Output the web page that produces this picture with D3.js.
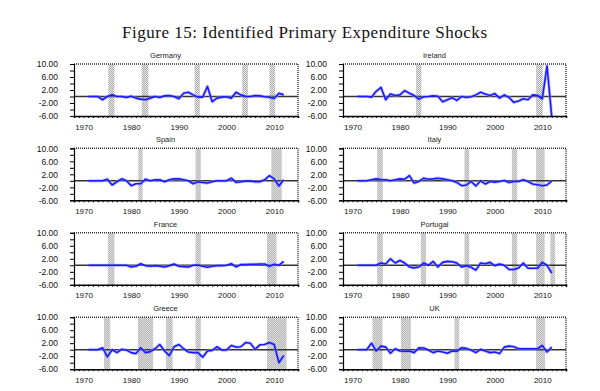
<!DOCTYPE html>
<html>
<head>
<meta charset="utf-8">
<script src="https://cdn.jsdelivr.net/npm/d3@7"></script>
<style>
  body { margin: 0; background: #fff; }
  svg { display: block; }
</style>
</head>
<body>
<div id="chart"></div>
<script>
// years of the series (annual)
const years = [1971, 1972, 1973, 1974, 1975, 1976, 1977, 1978, 1979, 1980,
  1981, 1982, 1983, 1984, 1985, 1986, 1987, 1988, 1989, 1990,
  1991, 1992, 1993, 1994, 1995, 1996, 1997, 1998, 1999, 2000,
  2001, 2002, 2003, 2004, 2005, 2006, 2007, 2008, 2009, 2010,
  2011, 2012];

const countries = ["Germany", "Ireland", "Spain", "Italy", "France", "Portugal", "Greece", "UK"];

// shock series
const germany = [0, 0, 0, -1.0, 0, 0.5, 0, 0, -0.3, 0.1,
  -0.5, -0.8, -1.0, -0.5, 0, -0.3, 0.2, 0.3, 0, -0.7,
  1.0, 1.3, 0.5, -0.2, -0.2, 3.1, -1.6, -0.5, -0.2, -0.1,
  -0.5, 1.3, 0.5, 0, 0, 0.3, 0.2, -0.1, -0.2, -0.6,
  1.0, 0.5];
const ireland = [0, 0, 0, -0.2, 1.6, 2.8, -1.0, 0.8, 0.3, 0.5,
  1.8, 1.0, 0.3, -0.8, -0.1, 0, 0.2, 0.1, -1.6, -1.0,
  -0.4, -1.2, 0, -0.3, -0.1, 0.5, 1.3, 0.8, 0.3, 0.9,
  -0.5, 0.5, -0.3, -1.8, -1.4, -0.7, -1.0, 0.5, 0.3, -0.7,
  9.4, -6.3];
const spain = [0, 0, 0, 0, 0.5, -1.3, -0.3, 0.6, 0, -1.5,
  -0.9, -0.9, 0.5, 0, 0.3, 0.3, -0.3, 0.3, 0.6, 0.6,
  0.3, 0, -0.9, -0.3, -0.5, -0.7, -0.3, 0, 0, 0,
  0.8, -0.5, -0.3, -0.1, -0.1, -0.3, -0.3, 0.3, 1.6, 0.6,
  -1.6, 0.3];
const italy = [0, 0, 0, 0.3, 0.6, 0.4, 0.3, 0, 0.3, 0.6,
  0.5, 1.6, -0.7, -0.2, 0.8, 0.5, 0.6, 0.8, 0.6, 0.3,
  0, -0.5, -1.5, -1.3, -0.2, -1.6, 0, -1.0, -0.2, -0.4,
  -0.2, 0.1, -0.5, -0.2, -0.2, 0.3, -0.2, -1.0, -1.2, -1.5,
  -1.3, 0];
const france = [0, 0, 0, 0, 0, 0, 0, 0, 0, -0.5,
  -0.3, 0.5, -0.1, -0.3, -0.1, -0.3, -0.5, -0.1, 0.4, -0.3,
  -0.4, -0.5, 0, 0.1, -0.3, -0.6, -0.3, -0.1, -0.1, 0,
  0.5, -0.5, 0.2, 0.2, 0.3, 0.3, 0.4, 0.4, -0.3, 0.3,
  0, 1.2];
const portugal = [0, 0, 0, 0, 0, 0.7, 0.4, 2.0, 0.7, 1.5,
  0.7, -0.5, -0.8, -0.5, 0.7, 0, 1.2, -0.5, 0.9, 1.2,
  1.1, 0.7, -0.5, -0.1, -0.6, -1.5, 0.7, 0.5, 0.9, -0.1,
  0.4, 0, -1.3, -1.3, -0.8, 0.7, -0.9, -0.9, -0.9, 0.9,
  0, -2.4];
const greece = [0, 0, 0, 0.6, -2.2, 0, -0.9, 0.1, -0.1, -0.9,
  -1.2, 0.6, -0.9, -0.6, 0.3, 1.6, -0.4, -1.8, 0.9, 1.6,
  0.3, -0.7, -0.9, -0.9, -2.3, -0.4, -0.2, 0.9, -0.1, -0.1,
  1.3, 0.8, 0.9, 2.2, 2.0, 0.1, 1.5, 1.6, 2.2, 1.6,
  -4.0, -1.8];
const uk = [0, 0, 0, 2.0, -0.4, 1.1, 0.8, -1.1, 0.3, -0.4,
  -0.5, -0.4, -0.9, 0.6, 0.5, -0.1, -0.9, -0.4, -0.7, -1.1,
  -0.4, -0.5, 0.6, 0.4, -0.1, -0.9, 0.1, -0.4, -0.9, -0.7,
  -1.2, 0.8, 1.1, 0.9, 0.3, 0.3, 0.3, 0.3, 0.3, 1.3,
  -0.7, 0.8];

// shaded periods [from, to] in years
const germanyBands = [[1975.2, 1976.5], [1982.2, 1983.6], [1993.3, 1994.4], [2003.3, 2004.5], [2009.0, 2010.2]];
const irelandBands = [[1983.4, 1984.5], [2008.7, 2010.1]];
const spainBands = [[1981.5, 1982.4], [1993.5, 1994.6], [2009.4, 2011.6]];
const italyBands = [[1975.2, 1976.4], [1993.6, 1994.6], [2003.6, 2004.7], [2008.7, 2010.5]];
const franceBands = [[1975.1, 1976.5], [1993.5, 1994.6], [2008.5, 2010.5]];
const portugalBands = [[1975.2, 1976.4], [1984.4, 1985.5], [1993.6, 1994.6], [2003.6, 2004.7], [2008.7, 2010.5], [2011.7, 2012.7]];
const greeceBands = [[1974.3, 1975.6], [1981.4, 1984.6], [1987.3, 1988.7], [1993.5, 1994.6], [2008.5, 2012.6]];
const ukBands = [[1974.2, 1976.3], [1980.2, 1982.3], [1991.5, 1992.5], [2008.7, 2010.6]];

const seriesList = [germany, ireland, spain, italy, france, portugal, greece, uk];
const bandsList = [germanyBands, irelandBands, spainBands, italyBands, franceBands, portugalBands, greeceBands, ukBands];

const yTicks = [-6, -4, -2, 0, 2, 4, 6, 8, 10];
const yLabels = [10, 6, 2, -2, -6];
const xLabels = [1970, 1980, 1990, 2000, 2010];

const width = 600, height = 391;
const svg = d3.select("#chart").append("svg")
  .attr("width", width)
  .attr("height", height);

// hatch pattern for the shaded periods
const pat = svg.append("defs").append("pattern")
  .attr("id", "hatch")
  .attr("patternUnits", "userSpaceOnUse")
  .attr("width", 2).attr("height", 2);
pat.append("rect").attr("width", 2).attr("height", 2).attr("fill", "#ececec");
pat.append("rect").attr("width", 1).attr("height", 1).attr("fill", "#a8a8a8");
pat.append("rect").attr("x", 1).attr("y", 1).attr("width", 1).attr("height", 1).attr("fill", "#a8a8a8");

svg.append("text")
  .attr("x", 304.5).attr("y", 38)
  .attr("text-anchor", "middle")
  .attr("font-family", "Liberation Serif, serif")
  .attr("font-size", 17)
  .attr("textLength", 365)
  .attr("lengthAdjust", "spacing")
  .attr("fill", "#111")
  .text("Figure 15: Identified Primary Expenditure Shocks");

const colLeft = [74, 343];
const colWidth = [224, 223];
const rowTop = [64, 148.3, 232.8, 317.2];
const plotH = 52;

countries.forEach((name, i) => {
  const col = i % 2, row = Math.floor(i / 2);
  const w = colWidth[col], h = plotH;
  const g = svg.append("g")
    .attr("transform", `translate(${colLeft[col]},${rowTop[row]})`);

  const x = d3.scaleLinear().domain([1968, 2015]).range([0, w]);
  const y = d3.scaleLinear().domain([-6, 10]).range([h, 0]);

  g.append("clipPath").attr("id", "clip" + i)
    .append("rect").attr("width", w).attr("height", h);

  // shaded bands
  g.selectAll("rect.band")
    .data(bandsList[i])
    .enter()
    .append("rect")
    .attr("class", "band")
    .attr("x", d => x(d[0]))
    .attr("width", d => x(d[1]) - x(d[0]))
    .attr("y", 0)
    .attr("height", h)
    .attr("fill", "url(#hatch)");

  // zero line
  g.append("line")
    .attr("x1", 0).attr("x2", w)
    .attr("y1", y(0)).attr("y2", y(0))
    .attr("stroke", "#333")
    .attr("stroke-width", 1.5);

  const line = d3.line()
    .x((d, k) => x(years[k]))
    .y(d => y(d));

  const lines = g.append("g").attr("clip-path", `url(#clip${i})`);
  lines.append("path")
    .datum(seriesList[i])
    .attr("d", line)
    .attr("fill", "none")
    .attr("stroke", "#9a9aff")
    .attr("stroke-width", 3.2)
    .attr("stroke-linejoin", "round")
    .attr("opacity", 0.6);
  lines.append("path")
    .datum(seriesList[i])
    .attr("d", line)
    .attr("fill", "none")
    .attr("stroke", "#1a1aff")
    .attr("stroke-width", 1.6)
    .attr("stroke-linejoin", "round");

  // top and right border, dotted look
  g.append("path")
    .attr("d", `M0,0H${w}V${h}`)
    .attr("fill", "none")
    .attr("stroke", "#333")
    .attr("stroke-width", 1.5)
    .attr("stroke-dasharray", "1,1");

  // y axis
  const yAxis = g.append("g")
    .call(d3.axisLeft(y)
      .tickValues(yTicks)
      .tickSize(4)
      .tickPadding(12)
      .tickFormat(d => yLabels.includes(d) ? d.toFixed(2) : ""));
  yAxis.select(".domain").attr("stroke", "#000").attr("stroke-width", 1.2);
  yAxis.selectAll("line").attr("stroke", "#000");
  yAxis.selectAll("text")
    .attr("font-family", "Liberation Sans, Arial, sans-serif")
    .attr("font-size", 8.5)
    .attr("fill", "#111");

  // x axis
  const xAxis = g.append("g")
    .attr("transform", `translate(0,${h})`)
    .call(d3.axisBottom(x)
      .tickValues(d3.range(1968, 2016))
      .tickSize(2)
      .tickPadding(6)
      .tickFormat(d => xLabels.includes(d) ? String(d) : ""));
  xAxis.select(".domain").attr("stroke", "#000").attr("stroke-width", 1.6);
  xAxis.selectAll("line").attr("stroke", "#000");
  xAxis.selectAll("text")
    .attr("font-family", "Liberation Sans, Arial, sans-serif")
    .attr("font-size", 8)
    .attr("fill", "#111");

  // panel title
  g.append("text")
    .attr("x", 91.5)
    .attr("y", -6)
    .attr("text-anchor", "middle")
    .attr("font-family", "Liberation Sans, Arial, sans-serif")
    .attr("font-size", 7.5)
    .attr("fill", "#222")
    .text(name);
});
</script>
</body>
</html>
